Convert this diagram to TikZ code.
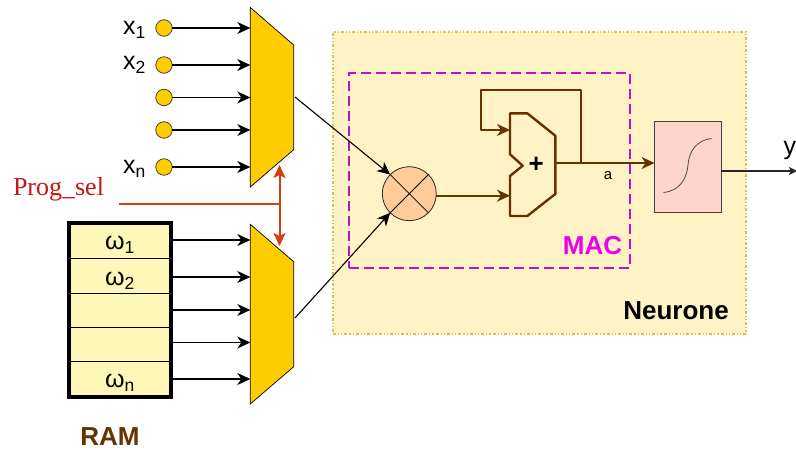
\documentclass[tikz,border=0pt]{standalone}
\usepackage{fontspec}
\setmainfont{Liberation Sans}
\newfontfamily\serifin{Liberation Serif}
\usetikzlibrary{arrows.meta}
\definecolor{muxc}{HTML}{FFCC00}
\definecolor{neur}{HTML}{FFF2C4}
\definecolor{neurb}{HTML}{E0BE50}
\definecolor{brownc}{HTML}{663300}
\definecolor{redc}{HTML}{D24010}
\definecolor{redt}{HTML}{C81414}
\definecolor{magc}{HTML}{C010C0}
\definecolor{macc}{HTML}{EE00EE}
\definecolor{ramc}{HTML}{FDF8B8}
\definecolor{mulc}{HTML}{FFCC99}
\definecolor{sigc}{HTML}{FFD5CB}
\tikzset{
 outer sep=0pt,
 arr/.style={-{Stealth[length=13pt,width=12pt,inset=4pt]},line width=1.1pt,black},
 muxs/.style={draw=black,line width=0.7pt,fill=muxc,line join=miter},
 inp/.style={circle,draw=black!80,line width=0.7pt,fill=muxc,minimum size=16.5pt,inner sep=0},
 cell/.style={minimum width=102pt,inner sep=0,anchor=north west,draw=black,line width=1pt,fill=ramc},
 brw/.style={draw=brownc,line width=2pt},
 brwa/.style={brw,-{Stealth[length=13pt,width=12pt,inset=4pt]}},
 red2/.style={draw=redc,line width=2pt},
 lab/.style={inner sep=0,font=\fontsize{25}{27}\selectfont},
 bld/.style={inner sep=0,font=\fontsize{26}{28}\selectfont\bfseries},
}
\begin{document}
\begin{tikzpicture}[x=1pt,y=-1pt]
\useasboundingbox (0,0) rectangle (796,450);
\clip (0,0) rectangle (796,450);
% Neurone
\node[draw=neurb,fill=neur,line width=1.2pt,dash dot dot,minimum width=413pt,minimum height=302pt,inner sep=0,anchor=north west] (neurone) at (333,32) {};
\node[draw=magc,line width=2pt,dash pattern=on 10pt off 5pt,minimum width=281pt,minimum height=195pt,inner sep=0,anchor=north west] (mac) at (349,73) {};
\node[bld,black] (neuronelab) at (676,311) {Neurone};
\node[bld,macc] (maclab) at (592.5,246) {MAC};
% Muxes
\coordinate (m1in1) at (250.3,28);\coordinate (m1in2) at (250.3,65);\coordinate (m1in3) at (250.3,97.5);\coordinate (m1in4) at (250.3,130);\coordinate (m1in5) at (250.3,167);
\coordinate (m1out) at (295,97);
\coordinate (m2in1) at (250.3,240);\coordinate (m2in2) at (250.3,277);\coordinate (m2in3) at (250.3,310);\coordinate (m2in4) at (250.3,342.5);\coordinate (m2in5) at (250.3,379);
\coordinate (m2out) at (295,318);
\draw[muxs] (250.3,7.5) -- (293.7,45) -- (293.7,149.7) -- (250.3,187) -- cycle;
\draw[muxs] (250.3,224.3) -- (293.7,261.7) -- (293.7,366.7) -- (250.3,404) -- cycle;
% inputs
\foreach \n/\y in {1/28,2/65,3/97.5,4/130,5/167}{
 \node[inp] (i\n) at (164,\y) {};
 \draw[arr] (i\n) -- (m1in\n);
}
\node[lab,anchor=west] (x1) at (123,30) {x\textsubscript{1}};
\node[lab,anchor=west] (x2) at (123,65) {x\textsubscript{2}};
\node[lab,anchor=west] (xn) at (123,169) {x\textsubscript{n}};
% RAM
\foreach \n/\t/\h/\ay in {1/223/35.5/240,2/258.5/34.5/277,3/293/34/310,4/327/34.5/342.5,5/361.5/35.5/379}{
 \node[cell,minimum height=\h pt] (r\n) at (69,\t) {};
 \draw[arr] (171,\ay) coordinate (ro\n) -- (m2in\n);
}
\node[draw=black,line width=3.4pt,minimum width=102pt,minimum height=174pt,inner sep=0,anchor=north west] (ramframe) at (69,223) {};
\node[lab] (w1) at (120,245) {ω\textsubscript{1}};
\node[lab] (w2) at (120,281) {ω\textsubscript{2}};
\node[lab] (wn) at (120,383) {ω\textsubscript{n}};
\node[bld,brownc] (ram) at (110,437) {RAM};
% Prog_sel
\node[inner sep=0,text=redt,font=\serifin\fontsize{26}{28}\selectfont,anchor=west] (prog) at (13,189) {Prog\_sel};
\coordinate (ps0) at (119,203.5);
\coordinate (ps1) at (279.5,203.5);
\coordinate (psu) at (279.5,165);
\coordinate (psd) at (279.5,246);
\draw[red2] (ps0) -- (ps1);
\draw[red2,{Stealth[length=13pt,width=12pt,inset=3pt]}-{Stealth[length=13pt,width=12pt,inset=3pt]}] (psu) -- (psd);
% Multiplier
\node[circle,draw=black!85,line width=0.8pt,fill=mulc,minimum size=54pt,inner sep=0] (mul) at (409.3,193.7) {};
\draw[black,line width=0.8pt] (mul.45) -- (mul.225) (mul.135) -- (mul.315);
\draw[arr] (m1out) -- (mul.135);
\draw[arr] (m2out) -- (mul.225);
% Adder
\coordinate (adda) at (510,130);
\coordinate (addb) at (510,195.7);
\coordinate (addo) at (555.3,163);
\draw[brownc,line width=2.4pt,line join=round,fill=neur] (510,113.3) -- (527.3,113.3) -- (555.3,135.7) -- (555.3,194) -- (527.3,216) -- (510,216) -- (510,176) -- (522.7,165.7) -- (510,154.3) -- cycle;
\node[inner sep=0,font=\fontsize{26}{28}\selectfont\bfseries] (plus) at (536.3,165) {+};
\draw[brwa] (mul.east |- addb) -- (addb);
\node[draw=black!75,line width=1.2pt,fill=sigc,minimum width=66.5pt,minimum height=90.5pt,inner sep=0,anchor=north west] (sig) at (654.6,121.6) {};
\draw[brwa] (addo) -- (sig.west |- addo);
\draw[brw,line join=round,-{Stealth[length=13pt,width=12pt,inset=4pt]}] (580.5,163) -- (580.5,89.5) -- (481,89.5) -- (481,130) -- (adda);
\node[inner sep=0,font=\fontsize{15}{17}\selectfont] (a) at (608,175.5) {a};
% sigmoid
\draw[black!70,line width=0.8pt] (663.5,192.5) .. controls (680,191) and (687,178) .. (688,165) .. controls (689,150) and (698,140) .. (711.5,138.5);
% output
\coordinate (yo) at (797,171);
\draw[black!85,line width=1.2pt,-{Stealth[length=8pt,width=8pt,inset=2pt]}] (sig.east |- yo) -- (yo);
\node[lab,anchor=east] (y) at (796,150) {y};
\end{tikzpicture}
\end{document}
